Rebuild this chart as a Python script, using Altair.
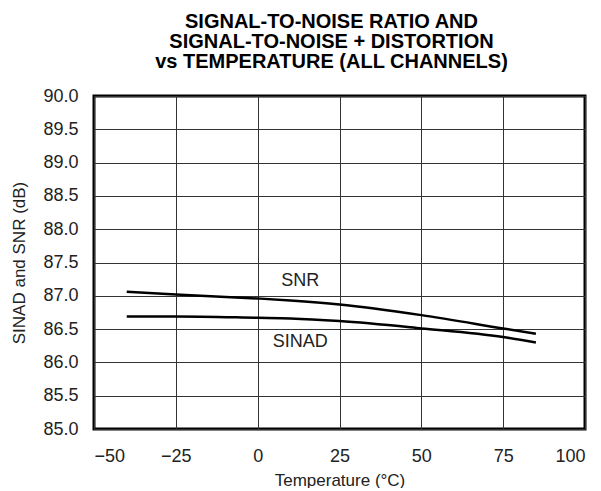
import altair as alt
import pandas as pd

temps = [-40, -25, 0, 10, 25, 50, 75, 85]
snr = [87.06, 87.02, 86.96, 86.93, 86.87, 86.71, 86.51, 86.43]
sinad = [86.69, 86.69, 86.67, 86.66, 86.62, 86.51, 86.38, 86.30]

x_ticks = [-50, -25, 0, 25, 50, 75, 100]
y_ticks = [85.0, 85.5, 86.0, 86.5, 87.0, 87.5, 88.0, 88.5, 89.0, 89.5, 90.0]

label_text = ["SNR", "SINAD"]
label_x = [13.0, 13.0]
label_y = [87.22, 86.31]

df = pd.DataFrame({
    "T": temps * 2,
    "v": snr + sinad,
    "s": ["SNR"] * len(temps) + ["SINAD"] * len(temps),
})
lab = pd.DataFrame({"t": label_text, "x": label_x, "y": label_y})

xs = alt.Scale(domain=[-50, 100], nice=False, zero=False)
ys = alt.Scale(domain=[85, 90], nice=False, zero=False)
xax = alt.Axis(values=x_ticks, format="d")
yax = alt.Axis(values=y_ticks, format=".1f")
xt = "Temperature (°C)"
yt = "SINAD and SNR (dB)"

lines = alt.Chart(df).mark_line(color="black", strokeWidth=2.5, interpolate="monotone").encode(
    x=alt.X("T:Q", scale=xs, title=xt, axis=xax),
    y=alt.Y("v:Q", scale=ys, title=yt, axis=yax),
    detail="s:N",
)

texts = alt.Chart(lab).mark_text(font="Liberation Sans", fontSize=18, color="#222", baseline="middle").encode(
    x=alt.X("x:Q", scale=xs, title=xt, axis=xax),
    y=alt.Y("y:Q", scale=ys, title=yt, axis=yax),
    text="t:N",
)

chart = (lines + texts).properties(
    width=491, height=333,
    padding={"left": 2, "top": 4, "right": 5, "bottom": 0},
    title=alt.TitleParams(
        ["SIGNAL-TO-NOISE RATIO AND", "SIGNAL-TO-NOISE + DISTORTION", "vs TEMPERATURE (ALL CHANNELS)"],
        font="Liberation Sans", fontSize=20, fontWeight="bold", color="black",
        lineHeight=20, offset=15, anchor="middle", dx=-8,
    ),
).configure_view(stroke="black", strokeWidth=3).configure_axis(
    grid=True, gridColor="#333", gridWidth=1, gridOpacity=1,
    domain=False, ticks=False, labelPadding=16, labelOverlap=False,
    labelFont="Liberation Sans", labelFontSize=18, labelColor="#222",
    titleFont="Liberation Sans", titleFontSize=17, titleFontWeight="normal", titleColor="#222",
).configure_axisY(titlePadding=14).configure_axisX(titlePadding=7, labelPadding=18)

chart.save("out.html", embed_options={"renderer": "svg", "actions": False})
